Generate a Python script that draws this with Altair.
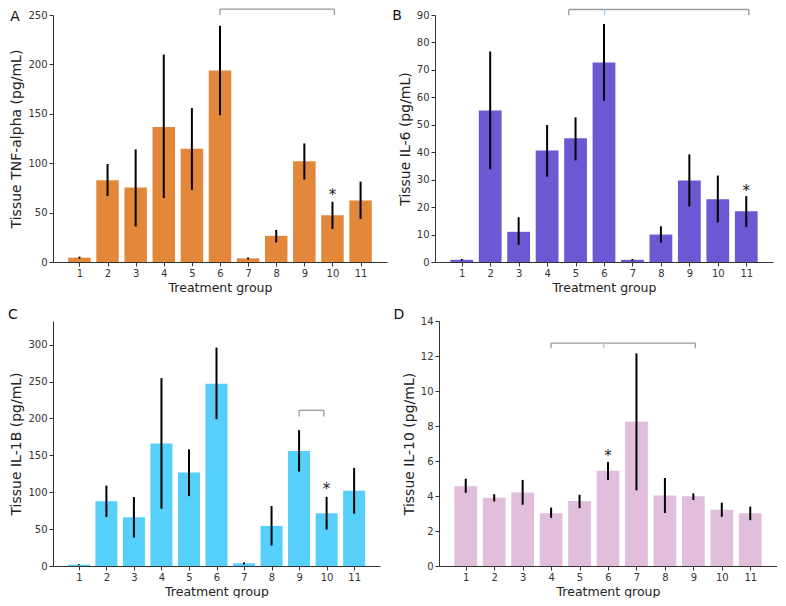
import altair as alt
import pandas as pd

groups = list(range(1, 12))

# Panel A: TNF-alpha
tnf_mean = [4.4, 82.8, 75.4, 136.7, 114.6, 193.7, 3.7, 26.5, 101.9, 47.3, 62.3]
tnf_lo = [3.4, 66.7, 36.0, 64.7, 73.0, 148.5, 2.7, 19.8, 83.4, 33.5, 43.6]
tnf_hi = [5.4, 99.2, 114.0, 210.0, 155.8, 239.0, 4.5, 32.5, 120.0, 61.0, 81.4]

# Panel B: IL-6
il6_mean = [0.8, 55.2, 11.0, 40.6, 45.1, 72.7, 0.8, 10.0, 29.7, 22.9, 18.5]
il6_lo = [0.5, 33.8, 6.3, 31.1, 37.0, 58.8, 0.5, 7.1, 20.2, 14.4, 12.8]
il6_hi = [1.1, 76.7, 16.3, 49.9, 52.7, 86.7, 1.1, 13.0, 39.2, 31.5, 24.0]

# Panel C: IL-1B
il1b_mean = [1.8, 87.6, 66.0, 166.0, 126.6, 247.0, 3.6, 54.3, 156.0, 71.4, 102.0]
il1b_lo = [1.2, 66.5, 38.6, 77.7, 94.7, 199.0, 2.2, 27.8, 128.0, 49.4, 71.0]
il1b_hi = [2.4, 109.0, 93.4, 254.6, 158.0, 296.0, 5.0, 81.3, 184.0, 93.8, 133.0]

# Panel D: IL-10
il10_mean = [4.56, 3.90, 4.20, 3.01, 3.71, 5.45, 8.25, 4.03, 3.98, 3.22, 3.01]
il10_lo = [4.18, 3.69, 3.50, 2.75, 3.30, 4.92, 4.33, 3.03, 3.77, 2.81, 2.62]
il10_hi = [4.99, 4.10, 4.92, 3.34, 4.07, 5.94, 12.15, 5.03, 4.15, 3.62, 3.39]

FONT = "DejaVu Sans"
AX = "#333333"


def panel(letter, means, lo, hi, color, ytitle, domain, yticks, width, height,
          star_g, star_y, br_x0, br_x1, br_y, br_y2, mid_x=None, letter_xy=(-41, 2)):
    df = pd.DataFrame({"g": groups, "m": means, "lo": lo, "hi": hi})
    xscale = alt.Scale(domain=[0.06, 11.94], nice=False, zero=False)
    yscale = alt.Scale(domain=domain, nice=False, zero=True)
    xaxis = alt.Axis(values=groups, title="Treatment group", grid=False, format="d",
                     domainColor=AX, tickColor=AX, labelColor=AX, titleColor="#222222",
                     labelFont=FONT, titleFont=FONT, labelFontSize=10, titleFontSize=12.5,
                     titleFontWeight="normal", tickSize=4, labelPadding=2, titlePadding=3,
                     labelAngle=0, labelOverlap=False, labelFlush=False)
    yaxis = alt.Axis(values=yticks, title=ytitle, grid=False,
                     domainColor=AX, tickColor=AX, labelColor=AX, titleColor="#222222",
                     labelFont=FONT, titleFont=FONT, labelFontSize=10, titleFontSize=14,
                     titleFontWeight="normal", tickSize=4, labelPadding=2, titlePadding=4,
                     labelOverlap=False, labelFlush=False)

    def X(field):
        return alt.X(field, scale=xscale, axis=xaxis)

    def Y(field):
        return alt.Y(field, scale=yscale, axis=yaxis)

    base = alt.Chart(df)
    bars = base.transform_calculate(
        x1="datum.g - 0.4", x2="datum.g + 0.4", z="0"
    ).mark_bar(color=color).encode(
        x=X("x1:Q"), x2="x2:Q", y=Y("m:Q"), y2="z:Q",
    )
    err = base.mark_rule(color="black", strokeWidth=2).encode(
        x=X("g:Q"), y=Y("lo:Q"), y2="hi:Q"
    )
    sdf = pd.DataFrame({"g": [star_g], "y": [star_y], "t": ["*"]})
    star = alt.Chart(sdf).mark_text(fontSize=15, font=FONT,
                                    baseline="middle", dy=4).encode(
        x=X("g:Q"), y=Y("y:Q"), text="t:N", color=alt.value("#222222")
    )
    bdf = pd.DataFrame({"x0": [br_x0], "x1": [br_x1], "y": [br_y], "y2": [br_y2]})
    bh = alt.Chart(bdf).mark_rule(color="#9a9a9a", strokeWidth=1.3).encode(
        x=X("x0:Q"), x2="x1:Q", y=Y("y:Q")
    )
    bl = alt.Chart(bdf).mark_rule(color="#9a9a9a", strokeWidth=1.3).encode(
        x=X("x0:Q"), y=Y("y:Q"), y2="y2:Q"
    )
    brr = alt.Chart(bdf).mark_rule(color="#9a9a9a", strokeWidth=1.3).encode(
        x=X("x1:Q"), y=Y("y:Q"), y2="y2:Q"
    )
    layers = [bars, err, star, bh, bl, brr]
    if mid_x is not None:
        mdf = pd.DataFrame({"x": [mid_x], "y": [br_y], "y2": [br_y2]})
        bm = alt.Chart(mdf).mark_rule(color="#a8c8ec", strokeWidth=1.3).encode(
            x=X("x:Q"), y=Y("y:Q"), y2="y2:Q"
        )
        layers.append(bm)
    ldf = pd.DataFrame({"t": [letter]})
    lab = alt.Chart(ldf).mark_text(fontSize=14, font=FONT,
                                   baseline="middle", align="center").encode(
        x=alt.value(letter_xy[0]), y=alt.value(letter_xy[1]), text="t:N",
        color=alt.value("#111111")
    )
    layers.append(lab)
    return alt.layer(*layers).properties(width=width, height=height)


A = panel("A", tnf_mean, tnf_lo, tnf_hi, "#E3883A", "Tissue TNF-alpha (pg/mL)",
          [0, 250], [0, 50, 100, 150, 200, 250], 334, 247,
          10, 72, 6.0, 10.07, 256, 250, letter_xy=(-38, 2))
B = panel("B", il6_mean, il6_lo, il6_hi, "#6E57D2", "Tissue IL-6 (pg/mL)",
          [0, 90], list(range(0, 91, 10)), 338, 247,
          11, 27.3, 4.76, 11.09, 92, 89.9, mid_x=6.02, letter_xy=(-38, 1))
C = panel("C", il1b_mean, il1b_lo, il1b_hi, "#56CFFA", "Tissue IL-1B (pg/mL)",
          [0, 332], [0, 50, 100, 150, 200, 250, 300], 327, 245,
          10, 110, 9.0, 9.9, 211, 202.5, letter_xy=(-40, -6))
D = panel("D", il10_mean, il10_lo, il10_hi, "#E1BEDB", "Tissue IL-10 (pg/mL)",
          [0, 14], list(range(0, 15, 2)), 338, 245,
          6, 6.5, 4.0, 9.07, 12.74, 12.44, mid_x=5.85, letter_xy=(-40, -6))

row1 = alt.hconcat(A, B, spacing=5)
row2 = alt.hconcat(C, D, spacing=13)
chart = alt.vconcat(row1, row2, spacing=14).properties(padding=0).configure_view(
    stroke=None
)

chart.save("out.html", embed_options={"renderer": "svg", "actions": False})
